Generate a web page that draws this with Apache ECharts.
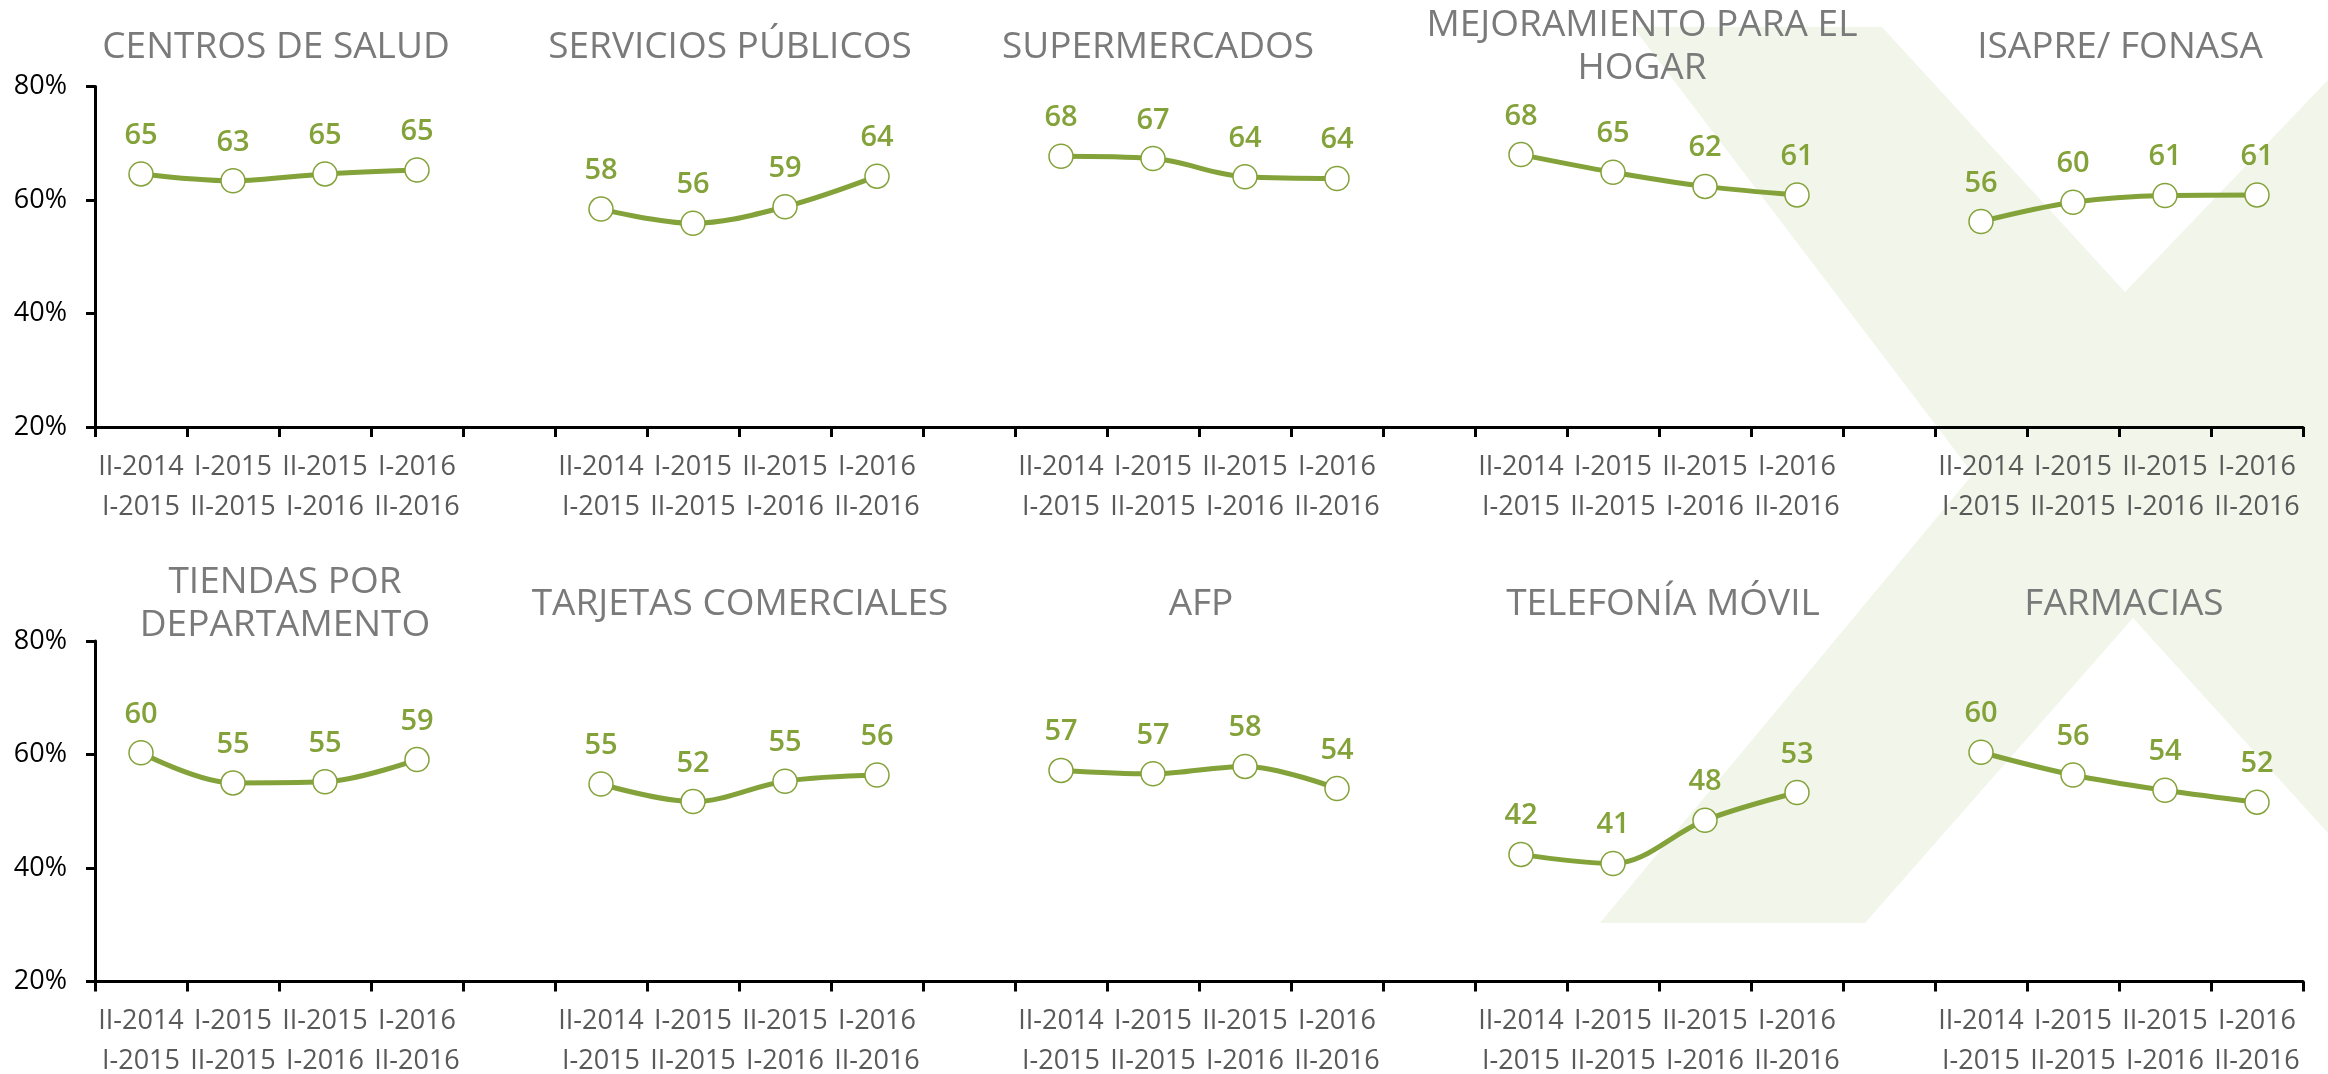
<!DOCTYPE html>
<html>
<head>
<meta charset="utf-8">
<script src="https://cdn.jsdelivr.net/npm/echarts@6/dist/echarts.min.js"></script>
<style>
  html, body { margin: 0; padding: 0; background: #fff; }
  #chart { width: 2328px; height: 1074px; }
</style>
</head>
<body>
<div id="chart"></div>
<script>
// periodos comparados en cada panel
const periodos = ['II-2014\nI-2015', 'I-2015\nII-2015', 'II-2015\nI-2016', 'I-2016\nII-2016'];

const titulosFila1 = ['CENTROS DE SALUD', 'SERVICIOS PÚBLICOS', 'SUPERMERCADOS', 'MEJORAMIENTO PARA EL\nHOGAR', 'ISAPRE/ FONASA'];
const titulosFila2 = ['TIENDAS POR\nDEPARTAMENTO', 'TARJETAS COMERCIALES', 'AFP', 'TELEFONÍA MÓVIL', 'FARMACIAS'];

// valores (%)
const centrosSalud = [64.6, 63.4, 64.6, 65.3];
const serviciosPublicos = [58.4, 55.9, 58.8, 64.2];
const supermercados = [67.7, 67.3, 64.1, 63.8];
const mejoramientoHogar = [68.0, 64.9, 62.4, 60.9];
const isapreFonasa = [56.2, 59.6, 60.8, 60.9];

const tiendasDepartamento = [60.3, 55.0, 55.2, 59.1];
const tarjetasComerciales = [54.8, 51.7, 55.3, 56.4];
const afp = [57.2, 56.6, 57.9, 54.0];
const telefoniaMovil = [42.4, 40.8, 48.4, 53.3];
const farmacias = [60.4, 56.4, 53.7, 51.6];

const ticksY = [20, 40, 60, 80];

const fila1 = [centrosSalud, serviciosPublicos, supermercados, mejoramientoHogar, isapreFonasa];
const fila2 = [tiendasDepartamento, tarjetasComerciales, afp, telefoniaMovil, farmacias];

// 4 periodos por panel + una categoria vacia entre paneles
const categorias = [];
for (let p = 0; p < 5; p++) {
  periodos.forEach(c => categorias.push(c));
  if (p < 4) categorias.push('');
}

const VERDE = '#84a23a';
const FUENTE = '"Open Sans", sans-serif';

function serie(valores, panel, fila) {
  const data = categorias.map(() => '-');
  valores.forEach((v, i) => { data[panel * 5 + i] = v; });
  return {
    type: 'line',
    xAxisIndex: fila,
    yAxisIndex: fila,
    data: data,
    smooth: 0.35,
    symbol: 'circle',
    symbolSize: 24,
    lineStyle: { color: VERDE, width: 5 },
    itemStyle: { color: '#fff', borderColor: VERDE, borderWidth: 1.5 },
    label: {
      show: true,
      position: 'top',
      distance: 11,
      color: VERDE,
      fontSize: 29,
      fontWeight: 600,
      fontFamily: FUENTE,
      formatter: p => Math.round(p.value)
    },
    emphasis: { disabled: true }
  };
}

function ejeX(i) {
  return {
    type: 'category',
    gridIndex: i,
    data: categorias,
    axisLine: { lineStyle: { color: '#000', width: 3 } },
    axisTick: { show: true, interval: 0, length: 10, lineStyle: { color: '#000', width: 3 } },
    axisLabel: { interval: 0, color: '#595959', fontSize: 27, lineHeight: 40, margin: 20, fontFamily: FUENTE }
  };
}

function ejeY(i) {
  return {
    type: 'value',
    gridIndex: i,
    min: ticksY[0],
    max: ticksY[ticksY.length - 1],
    interval: ticksY[1] - ticksY[0],
    axisLine: { show: true, lineStyle: { color: '#000', width: 3 } },
    axisTick: { show: true, length: 9, lineStyle: { color: '#000', width: 3 } },
    axisLabel: { formatter: '{value}%', color: '#000', fontSize: 27, margin: 28, fontFamily: FUENTE },
    splitLine: { show: false }
  };
}

// centros de los titulos
const xTitulos1 = [276, 730, 1158, 1642, 2120];
const xTitulos2 = [285, 740, 1201, 1663, 2124];

const titulos = [];
titulosFila1.forEach((t, i) => titulos.push({ type: 'text', x: xTitulos1[i], y: 47, z: 10, silent: true,
  style: { text: t, align: 'center', verticalAlign: 'middle', fill: '#7a7a7a', fontSize: 37, lineHeight: 43, fontFamily: FUENTE } }));
titulosFila2.forEach((t, i) => titulos.push({ type: 'text', x: xTitulos2[i], y: 604, z: 10, silent: true,
  style: { text: t, align: 'center', verticalAlign: 'middle', fill: '#7a7a7a', fontSize: 37, lineHeight: 43, fontFamily: FUENTE } }));

let chart = echarts.init(document.getElementById('chart'));

let option = {
  animation: false,
  backgroundColor: '#fff',
  grid: [
    { left: 95, right: 25, top: 86.5, height: 340.5, outerBoundsMode: 'none' },
    { left: 95, right: 25, top: 641, height: 340.5, outerBoundsMode: 'none' }
  ],
  xAxis: [ejeX(0), ejeX(1)],
  yAxis: [ejeY(0), ejeY(1)],
  graphic: [
    // marca de agua (X verde clara)
    {
      type: 'polygon', z: -1, silent: true,
      shape: { points: [[1633, 27], [1882, 27], [2125, 292], [2328, 80], [2328, 833], [2133, 618], [1865, 923], [1600, 923], [1973, 474]] },
      style: { fill: '#f2f6ea' }
    }
  ].concat(titulos),
  series: fila1.map((v, i) => serie(v, i, 0)).concat(fila2.map((v, i) => serie(v, i, 1)))
};

chart.setOption(option);
</script>
</body>
</html>
